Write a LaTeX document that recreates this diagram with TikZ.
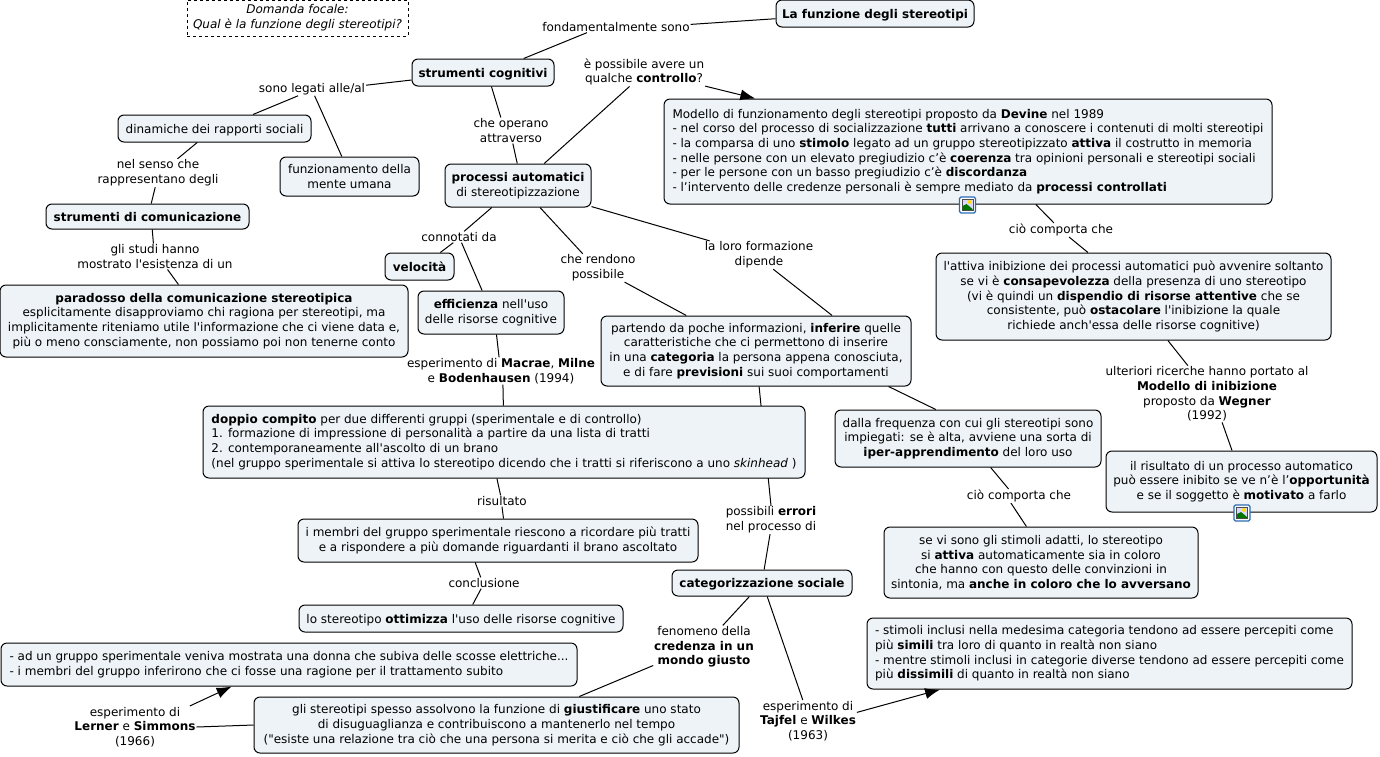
\documentclass[tikz,border=0pt]{standalone}
\usepackage{fontspec}
\newfontfamily\mapfont{DejaVu Sans}
\usetikzlibrary{arrows.meta}
\definecolor{boxfill}{HTML}{EDF3F6}
\definecolor{iconblue}{HTML}{2A6BB5}
\tikzset{photo/.pic={
  \draw[iconblue, line width=1.3pt, fill=white, rounded corners=1.5pt] (-8,-8) rectangle (8,8);
  \fill[black!70] (-6,-6) rectangle (6,6);
  \fill[blue!15] (-5,-5) rectangle (5,5);
  \fill[yellow!80!orange] (2,-3) circle (2);
  \fill[green!45!black] (-5,5) -- (-5,1) -- (-1,-1) -- (5,4) -- (5,5) -- cycle;
}}
\begin{document}
\begin{tikzpicture}[x=1pt, y=-1pt, font=\mapfont\fontsize{12}{14.7}\selectfont,
          line width=1pt,
          box/.style 2 args={draw, rounded corners=6pt, fill=boxfill, align=center, inner sep=0pt, minimum width=#1pt, minimum height=#2pt},
          textbox/.style 2 args={box={#1}{#2}, align=left},
          single/.style={text height=9pt, text depth=0pt},
          focal/.style={draw, dashed, align=center, inner sep=0pt, minimum width=221pt, minimum height=36pt, font=\mapfont\fontsize{12}{14.7}\selectfont\itshape},
          link/.style={align=center, inner sep=0.5pt},
          tip/.style={-{Latex[length=15pt, width=11pt]}}]
  \useasboundingbox (0,0) rectangle (1380,756);
  \node[focal] (domanda) at (297.5,18) {Domanda focale:\\Qual è la funzione degli stereotipi?};
  \node[box={198}{27}, single] (titolo) at (875,13.5) {\textbf{La funzione degli stereotipi}};
  \node[box={142}{27}, single] (strum) at (483,72.5) {\textbf{strumenti cognitivi}};
  \node[box={193}{27}, single] (dinam) at (214.5,128.5) {dinamiche dei rapporti sociali};
  \node[box={139}{39}] (funz) at (349.5,176.5) {funzionamento della\\mente umana};
  \node[box={146}{43}] (proc) at (518,185.5) {\textbf{processi automatici}\\di stereotipizzazione};
  \node[box={203}{25}, single] (scom) at (147.5,216.5) {\textbf{strumenti di comunicazione}};
  \node[box={69}{27}, single] (veloc) at (419.5,266.5) {\textbf{velocità}};
  \node[box={146}{43}] (effic) at (491,312.5) {\textbf{efficienza} nell'uso\\delle risorse cognitive};
  \node[box={408}{72}] (parad) at (204,321) {\textbf{paradosso della comunicazione stereotipica}\\esplicitamente disapproviamo chi ragiona per stereotipi, ma\\implicitamente riteniamo utile l'informazione che ci viene data e,\\più o meno consciamente, non possiamo poi non tenerne conto};
  \node[box={310}{70}] (part) at (756,351) {partendo da poche informazioni, \textbf{inferire} quelle\\caratteristiche che ci permettono di inserire\\in una \textbf{categoria} la persona appena conosciuta,\\e di fare \textbf{previsioni} sui suoi comportamenti};
  \node[textbox={608}{105}] (model) at (968,151.5) {Modello di funzionamento degli stereotipi proposto da \textbf{Devine} nel 1989\\- nel corso del processo di socializzazione \textbf{tutti} arrivano a conoscere i contenuti di molti stereotipi\\- la comparsa di uno \textbf{stimolo} legato ad un gruppo stereotipizzato \textbf{attiva} il costrutto in memoria\\- nelle persone con un elevato pregiudizio c’è \textbf{coerenza} tra opinioni personali e stereotipi sociali\\- per le persone con un basso pregiudizio c’è \textbf{discordanza}\\- l’intervento delle credenze personali è sempre mediato da \textbf{processi controllati}};
  \node[box={395}{87}] (inib) at (1133.5,296.5) {l'attiva inibizione dei processi automatici può avvenire soltanto\\se vi è \textbf{consapevolezza} della presenza di uno stereotipo\\(vi è quindi un \textbf{dispendio di risorse attentive} che se\\consistente, può \textbf{ostacolare} l'inibizione la quale\\richiede anch'essa delle risorse cognitive)};
  \node[box={271}{61}] (risult) at (1241.5,481.5) {il risultato di un processo automatico\\può essere inibito se ve n’è l’\textbf{opportunità}\\e se il soggetto è \textbf{motivato} a farlo};
  \node[box={266}{57}] (freq) at (968,438.5) {dalla frequenza con cui gli stereotipi sono\\impiegati: se è alta, avviene una sorta di\\\textbf{iper-apprendimento} del loro uso};
  \node[box={314}{71}] (stim) at (1041,562.5) {se vi sono gli stimoli adatti, lo stereotipo\\si \textbf{attiva} automaticamente sia in coloro\\che hanno con questo delle convinzioni in\\sintonia, ma \textbf{anche in coloro che lo avversano}};
  \node[link] (errori) at (771,520) {possibili \textbf{errori}\\nel processo di};
  \draw (part.-85.1) -- (errori.90);
  \node[textbox={602}{72}] (doppio) at (504,442) {\textbf{doppio compito} per due differenti gruppi (sperimentale e di controllo)\\1. formazione di impressione di personalità a partire da una lista di tratti\\2. contemporaneamente all'ascolto di un brano\\(nel gruppo sperimentale si attiva lo stereotipo dicendo che i tratti si riferiscono a uno \textit{skinhead} )};
  \node[box={400}{43}] (membri) at (498,540.5) {i membri del gruppo sperimentale riescono a ricordare più tratti\\e a rispondere a più domande riguardanti il brano ascoltato};
  \node[box={324}{27}, single] (ottim) at (461,618.5) {lo stereotipo \textbf{ottimizza} l'uso delle risorse cognitive};
  \node[box={180}{26}, single] (categ) at (762,583) {\textbf{categorizzazione sociale}};
  \node[textbox={485}{71}] (simili) at (1109.5,653.5) {- stimoli inclusi nella medesima categoria tendono ad essere percepiti come\\più \textbf{simili} tra loro di quanto in realtà non siano\\- mentre stimoli inclusi in categorie diverse tendono ad essere percepiti come\\più \textbf{dissimili} di quanto in realtà non siano};
  \node[textbox={576}{43}] (donna) at (289,664.5) {- ad un gruppo sperimentale veniva mostrata una donna che subiva delle scosse elettriche...\\- i membri del gruppo inferirono che ci fosse una ragione per il trattamento subito};
  \node[box={485}{56}] (giust) at (496.5,725) {gli stereotipi spesso assolvono la funzione di \textbf{giustificare} uno stato\\di disuguaglianza e contribuiscono a mantenerlo nel tempo\\("esiste una relazione tra ciò che una persona si merita e ciò che gli accade")};
  \pic at (967.5,205) {photo};
  \pic at (1242,513) {photo};
  \node[link] (fond) at (616,27) {fondamentalmente sono};
  \node[link] (legati) at (312,89) {sono legati alle/al};
  \node[link] (operano) at (511,130.5) {che operano\\attraverso};
  \node[link] (contr) at (644,72) {è possibile avere un\\qualche \textbf{controllo}?};
  \node[link] (senso) at (158,173) {nel senso che\\rappresentano degli};
  \node[link] (studi) at (155,256.5) {gli studi hanno\\mostrato l'esistenza di un};
  \node[link] (conn) at (459,237) {connotati da};
  \node[link] (rend) at (598,268) {che rendono\\possibile};
  \node[link] (loro) at (759,255) {la loro formazione\\dipende};
  \node[link] (comp) at (1061,230) {ciò comporta che};
  \node[link] (ulter) at (1207,394) {ulteriori ricerche hanno portato al\\\textbf{Modello di inibizione}\\proposto da \textbf{Wegner}\\(1992)};
  \node[link] (macrae) at (501,371) {esperimento di \textbf{Macrae}, \textbf{Milne}\\e \textbf{Bodenhausen} (1994)};
  \node[link] (esito) at (502,501) {risultato};
  \node[link] (concl) at (484,583) {conclusione};
  \node[link] (comp2) at (1019,496) {ciò comporta che};
  \node[link] (fenom) at (704,647) {fenomeno della\\\textbf{credenza in un}\\\textbf{mondo giusto}};
  \node[link] (tajfel) at (808,721) {esperimento di\\\textbf{Tajfel} e \textbf{Wilkes}\\(1963)};
  \node[link] (lerner) at (135,727) {esperimento di\\\textbf{Lerner} e \textbf{Simmons}\\(1966)};
  \draw (titolo.183.2) -- (fond.2);
  \draw (fond.191) -- (strum.19.1);
  \draw (strum.186) -- (legati.4);
  \draw (legati.206.6) -- (dinam.20.8);
  \draw (legati.-69) -- (funz.111);
  \draw (dinam.219.3) -- (senso.36.4);
  \draw (senso.259.4) -- (scom.74.4);
  \draw (scom.-70) -- (studi.97.6);
  \draw (studi.-46.8) -- (parad.125.8);
  \draw (strum.-59.3) -- (operano.128);
  \draw (operano.-82) -- (proc.92.7);
  \draw (proc.40.7) -- (contr.225);
  \draw[tip] (contr.-13.6) -- (model.166);
  \draw (proc.220.7) -- (conn.48.8);
  \draw (conn.225) -- (veloc.34.7);
  \draw (conn.-66.8) -- (effic.112.7);
  \draw (effic.-76.9) -- (macrae.98);
  \draw (macrae.-82) -- (doppio.91.6);
  \draw (proc.-45.7) -- (rend.137);
  \draw (rend.-28.9) -- (part.153.1);
  \draw (proc.-16.4) -- (loro.164.5);
  \draw (loro.-45) -- (part.25.6);
  \draw (part.-15.9) -- (freq.138.3);
  \draw (freq.-52.3) -- (comp2.146);
  \draw (comp2.221.6) -- (stim.112.9);
  \draw (model.-38.9) -- (comp.135);
  \draw (comp.-41.6) -- (inib.136.3);
  \draw (inib.-52.4) -- (ulter.124);
  \draw (ulter.-62.7) -- (risult.107.3);
  \draw (doppio.-101) -- (esito.104);
  \draw (esito.-90) -- (membri.76.9);
  \draw (membri.224) -- (concl.120);
  \draw (concl.243) -- (ottim.50.8);
  \draw (errori.-94) -- (categ.81);
  \draw (categ.227) -- (fenom.49);
  \draw (fenom.200) -- (giust.19.6);
  \draw (categ.-69) -- (tajfel.104);
  \draw[tip] (tajfel.10.7) -- (simili.192.4);
  \draw (giust.180.5) -- (lerner.0);
  \draw[tip] (lerner.21.8) -- (donna.201);
\end{tikzpicture}
\end{document}
